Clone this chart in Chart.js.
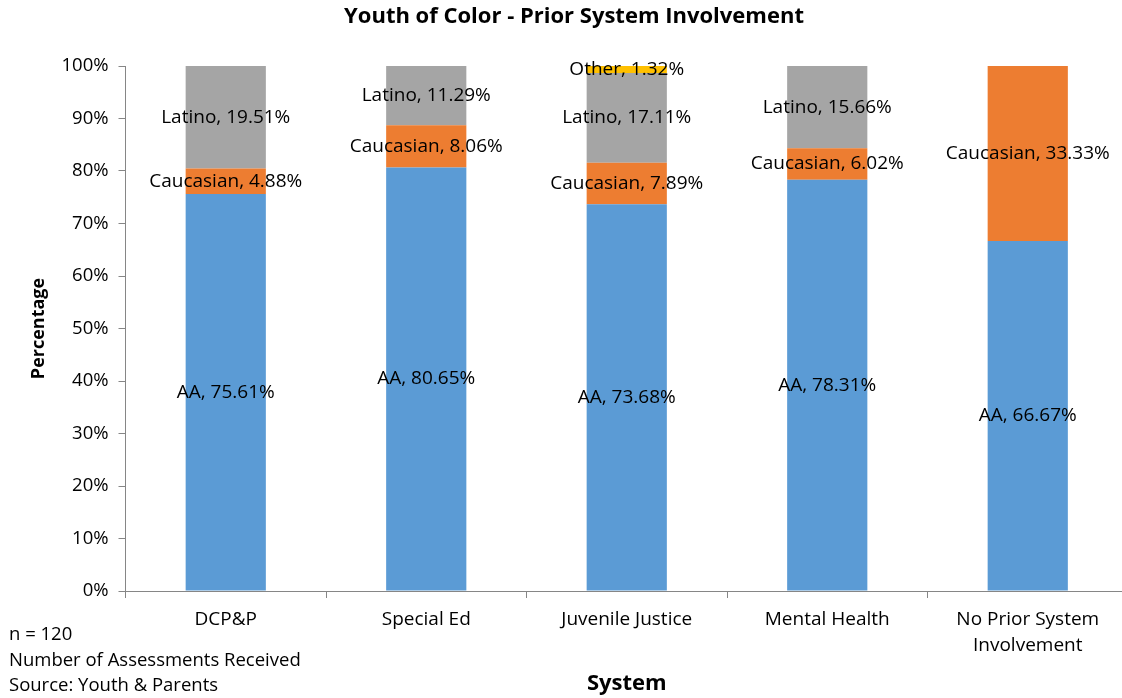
<!DOCTYPE html>
<html>
<head>
<meta charset="utf-8">
<script src="https://cdn.jsdelivr.net/npm/chart.js@4"></script>
<style>
html,body{margin:0;padding:0;background:#fff;overflow:hidden;width:1122px;height:698px;}
#wrap{width:1122px;height:698px;position:relative;overflow:hidden;}
canvas{display:block;}
</style>
</head>
<body>
<div id="wrap"><canvas id="c" width="1128" height="698"></canvas></div>
<script>
const categories = ["DCP&P", "Special Ed", "Juvenile Justice", "Mental Health", ["No Prior System", "Involvement"]];
const aaValues = [75.61, 80.65, 73.68, 78.31, 66.67];
const caucasianValues = [4.88, 8.06, 7.89, 6.02, 33.33];
const latinoValues = [19.51, 11.29, 17.11, 15.66, 0];
const otherValues = [0, 0, 1.32, 0, 0];
const seriesNames = ["AA", "Caucasian", "Latino", "Other"];
const titleText = "Youth of Color - Prior System Involvement";
const footnotes = ["n = 120", "Number of Assessments Received", "Source: Youth & Parents"];

const FONT = "'Open Sans', sans-serif";
Chart.defaults.font.family = FONT;
Chart.defaults.color = "#000";

const labelPlugin = {
  id: "segLabels",
  afterDatasetsDraw(chart) {
    const ctx = chart.ctx;
    ctx.save();
    ctx.font = "19px " + FONT;
    ctx.fillStyle = "#000";
    ctx.textAlign = "center";
    ctx.textBaseline = "middle";
    chart.data.datasets.forEach((ds, di) => {
      const meta = chart.getDatasetMeta(di);
      meta.data.forEach((bar, i) => {
        const v = ds.data[i];
        if (!v) return;
        const y = (bar.y + bar.base) / 2;
        ctx.fillText(ds.label + ", " + v.toFixed(2) + "%", bar.x, y);
      });
    });
    ctx.font = "bold 22px " + FONT;
    ctx.fillText(titleText, 574, 17);
    ctx.textAlign = "left";
    ctx.font = "18.5px " + FONT;
    footnotes.forEach((t, k) => ctx.fillText(t, 9, 635 + k * 25.5));
    ctx.restore();
  }
};

const chart = new Chart(document.getElementById("c"), {
  type: "bar",
  data: {
    labels: categories,
    datasets: [
      { label: seriesNames[0], data: aaValues, backgroundColor: "#5B9BD5" },
      { label: seriesNames[1], data: caucasianValues, backgroundColor: "#ED7D31" },
      { label: seriesNames[2], data: latinoValues, backgroundColor: "#A5A5A5" },
      { label: seriesNames[3], data: otherValues, backgroundColor: "#FFC000" }
    ]
  },
  options: {
    responsive: false,
    animation: false,
    layout: { padding: { left: 0, right: 0, top: 66, bottom: 0 } },
    datasets: { bar: { barPercentage: 0.4, categoryPercentage: 1.0 } },
    plugins: {
      legend: { display: false },
      tooltip: { enabled: false },
      title: { display: false }
    },
    scales: {
      x: {
        stacked: true,
        border: { color: "#868686", width: 1 },
        grid: { drawOnChartArea: false, drawTicks: true, tickLength: 7, color: "#868686", offset: true },
        ticks: { font: { size: 19, lineHeight: 1.35 }, color: "#000", padding: 9, maxRotation: 0, autoSkip: false },
        title: { display: true, text: "System", font: { size: 22, weight: "bold" }, color: "#000", padding: { top: 0, bottom: 1 } },
        afterFit(s) { s.height = 107; }
      },
      y: {
        stacked: true,
        min: 0, max: 100,
        border: { color: "#868686", width: 1 },
        grid: { drawOnChartArea: false, drawTicks: true, tickLength: 7, color: "#868686" },
        ticks: { stepSize: 10, font: { size: 18.5 }, color: "#000", padding: 10, callback: v => v + "%" },
        title: { display: true, text: "Percentage", font: { size: 18, weight: "bold" }, color: "#000", padding: { top: 28, bottom: 0 } },
        afterFit(s) { s.width = 125.5; }
      }
    }
  },
  plugins: [labelPlugin]
});
</script>
</body>
</html>
